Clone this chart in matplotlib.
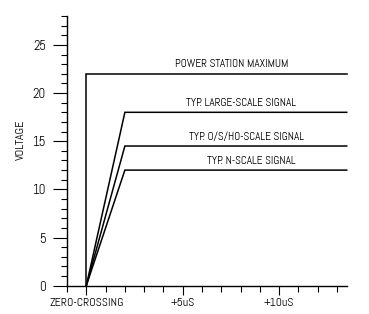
import matplotlib
matplotlib.use('Agg')
import matplotlib.pyplot as plt
from matplotlib.ticker import MultipleLocator, FixedLocator

plt.rcParams['font.family'] = ['Abel', 'DejaVu Sans']

# signal traces: rise from the zero crossing to a plateau
names = ['POWER STATION MAXIMUM', 'TYP. LARGE-SCALE SIGNAL',
         'TYP. O/S/HO-SCALE SIGNAL', 'TYP. N-SCALE SIGNAL']
rise_x = [0, 2, 2, 2]
plateau = [22, 18, 14.5, 12]
end_x = 13.5
label_x = [7.55, 8.0, 8.3, 8.55]

xtick_pos = [0, 5, 10]
xtick_labels = ['ZERO-CROSSING', '+5uS', '+10uS']

fig = plt.figure(figsize=(3.69, 3.14), dpi=100)
ax = fig.add_axes([0.1816, 0.0901, 0.758, 0.859])

for name, rx, v, lx in zip(names, rise_x, plateau, label_x):
    ax.plot([0, rx, end_x], [0, v, v], color='black', lw=1.1,
            solid_joinstyle='miter', clip_on=False)
    ax.text(lx, v + 0.45, name, ha='center', va='bottom', fontsize=8.2)

ax.set_xlim(-1, 13.5)
ax.set_ylim(0, 28)

ax.spines['top'].set_visible(False)
ax.spines['right'].set_visible(False)
ax.spines['left'].set_linewidth(1.0)
ax.spines['bottom'].set_linewidth(1.0)

ax.yaxis.set_major_locator(FixedLocator([0, 5, 10, 15, 20, 25]))
ax.yaxis.set_minor_locator(MultipleLocator(1))
ax.set_xticks(xtick_pos)
ax.set_xticklabels(xtick_labels)
ax.xaxis.set_minor_locator(MultipleLocator(1))

ax.tick_params(axis='y', which='major', length=10, width=0.8, labelsize=9.5, pad=5)
ax.tick_params(axis='y', which='minor', length=4.5, width=0.8)
ax.tick_params(axis='x', which='major', length=6.5, width=0.8, labelsize=8.6, pad=2.5)
ax.tick_params(axis='x', which='minor', length=4.5, width=0.8)

ax.set_ylabel('VOLTAGE', fontsize=8.8)
ax.yaxis.set_label_coords(-0.147, 0.54)

fig.savefig('out.png', dpi=100)
